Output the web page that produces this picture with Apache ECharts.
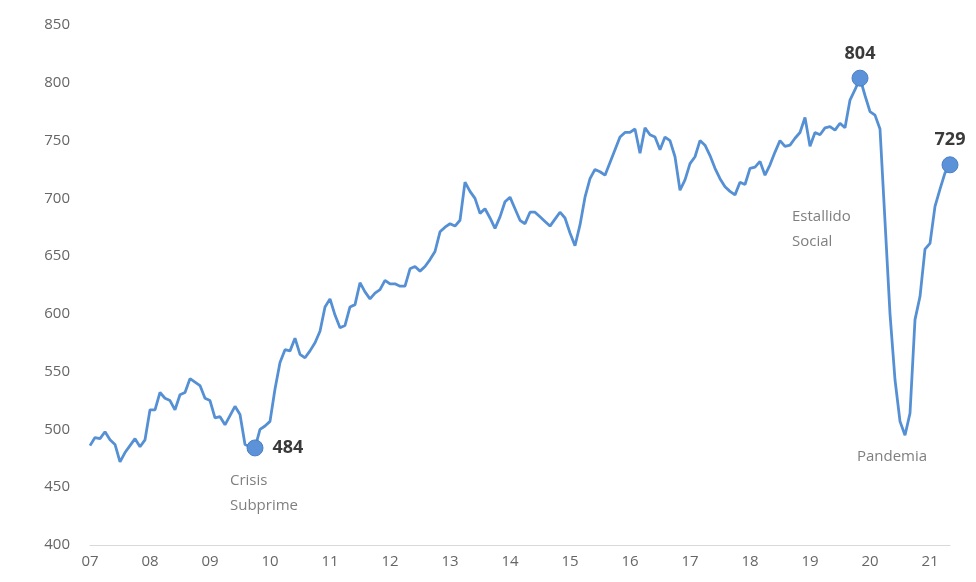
<!DOCTYPE html>
<html>
<head>
<meta charset="utf-8">
<script src="https://cdn.jsdelivr.net/npm/echarts@6/dist/echarts.min.js"></script>
<style>
  html, body { margin: 0; padding: 0; background: #ffffff; }
  #chart { width: 976px; height: 582px; }
</style>
</head>
<body>
<div id="chart"></div>
<script>
// Monthly series, January 2007 to May 2021
const firstYear = 2007;
const lastYear = 2021;
const lastMonth = 5;

const values = [
  486, 493, 492, 498, 491, 487, 472, 480, 486, 492, 485, 491,   // 2007
  517, 517, 532, 527, 525, 517, 530, 532, 544, 541, 538, 527,   // 2008
  525, 510, 511, 504, 512, 520, 513, 487, 485, 484, 500, 503,   // 2009
  507, 535, 558, 569, 568, 579, 565, 562, 568, 575, 585, 606,   // 2010
  613, 599, 588, 590, 606, 608, 627, 619, 613, 618, 621, 629,   // 2011
  626, 626, 624, 624, 639, 641, 637, 641, 647, 654, 671, 675,   // 2012
  678, 676, 681, 714, 706, 700, 687, 691, 683, 674, 684, 697,   // 2013
  701, 691, 681, 678, 688, 688, 684, 680, 676, 682, 688, 683,   // 2014
  670, 659, 677, 701, 717, 725, 723, 720, 731, 742, 753, 757,   // 2015
  757, 760, 739, 761, 755, 753, 742, 753, 750, 736, 707, 716,   // 2016
  730, 736, 750, 746, 737, 726, 717, 710, 706, 703, 714, 712,   // 2017
  726, 727, 732, 720, 729, 740, 750, 745, 746, 752, 757, 770,   // 2018
  745, 757, 755, 761, 762, 759, 765, 761, 785, 794, 804, 789,   // 2019
  775, 772, 760, 680, 600, 543, 507, 495, 514, 595, 615, 656,   // 2020
  661, 693, 708, 722, 729                                       // 2021
];

// Highlighted points (index into the series) and event notes
const highlightIdx = [33, 154, 172];
const eventNames = ['Crisis\nSubprime', 'Estallido\nSocial', 'Pandemia'];
const eventIdx = [33, 154, 163];

const yTicks = { min: 400, max: 850, step: 50 };

// Month categories
const categories = [];
for (let y = firstYear; y <= lastYear; y++) {
  const mEnd = (y === lastYear) ? lastMonth : 12;
  for (let m = 1; m <= mEnd; m++) {
    categories.push(y + '-' + (m < 10 ? '0' + m : m));
  }
}

const blue = '#5690d4';
const font = "'Open Sans', 'Noto Sans', sans-serif";

const highlightData = highlightIdx.map(i => ({
  value: [categories[i], values[i]],
  label: i === 33
    ? { position: 'right', distance: 9 }
    : { position: 'top', distance: 7 }
}));

const noteStyles = [
  { align: 'left', verticalAlign: 'top', offset: [-25, 20] },
  { align: 'left', verticalAlign: 'top', offset: [-68, 126] },
  { align: 'center', verticalAlign: 'middle', offset: [-13, 22] }
];

const noteData = eventIdx.map((i, k) => ({
  coord: [categories[i], values[i]],
  label: Object.assign({
    show: true,
    position: 'inside',
    formatter: eventNames[k],
    color: '#7f7f7f',
    fontSize: 15,
    fontFamily: font,
    lineHeight: 25
  }, noteStyles[k])
}));

const chart = echarts.init(document.getElementById('chart'), null, { renderer: 'canvas' });

chart.setOption({
  animation: false,
  backgroundColor: '#ffffff',
  grid: { left: 90, right: 26, top: 25, bottom: 37, containLabel: false },
  xAxis: {
    type: 'category',
    data: categories,
    boundaryGap: false,
    axisLine: { show: true, lineStyle: { color: '#d9d9d9', width: 1 } },
    axisTick: { show: false },
    axisLabel: {
      interval: 11,
      margin: 9,
      color: '#666666',
      fontSize: 15,
      fontFamily: font,
      formatter: v => v.slice(2, 4)
    },
    splitLine: { show: false }
  },
  yAxis: {
    type: 'value',
    min: yTicks.min,
    max: yTicks.max,
    interval: yTicks.step,
    axisLine: { show: false },
    axisTick: { show: false },
    splitLine: { show: false },
    axisLabel: {
      margin: 20,
      color: '#666666',
      fontSize: 15,
      fontFamily: font
    }
  },
  series: [
    {
      type: 'line',
      data: values,
      showSymbol: false,
      symbol: 'none',
      lineStyle: { color: blue, width: 2.8 },
      z: 2,
      markPoint: {
        symbol: 'circle',
        symbolSize: 0,
        silent: true,
        data: noteData
      }
    },
    {
      type: 'scatter',
      data: highlightData,
      symbol: 'circle',
      symbolSize: 16,
      itemStyle: { color: '#5b92d8', borderColor: '#4a80c6', borderWidth: 1, opacity: 1 },
      z: 3,
      label: {
        show: true,
        formatter: p => p.value[1],
        color: '#3a3a3a',
        fontSize: 18,
        fontWeight: 'bold',
        fontFamily: font
      }
    }
  ]
});
</script>
</body>
</html>
